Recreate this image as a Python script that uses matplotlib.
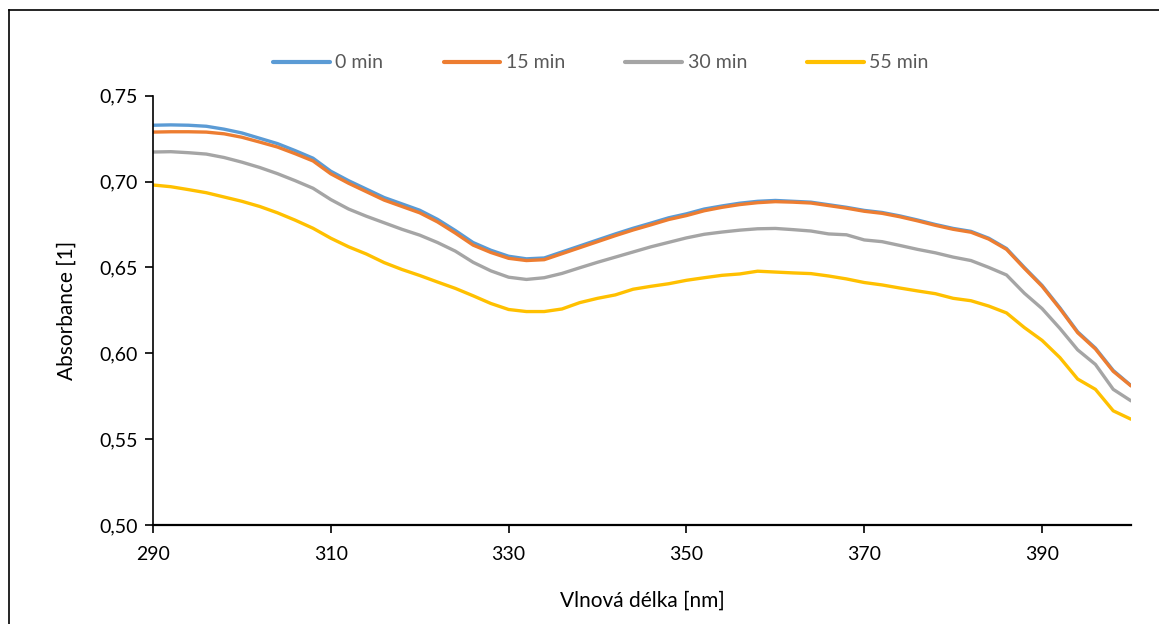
import matplotlib
matplotlib.use("Agg")
import matplotlib.pyplot as plt
from matplotlib.lines import Line2D

plt.rcParams['font.family'] = ['Lato', 'DejaVu Sans']

wavelength = list(range(290, 401, 2))

abs_0min = [0.7328, 0.7330, 0.7328, 0.7322, 0.7305, 0.7283, 0.7252, 0.7221, 0.7180, 0.7136,
            0.7060, 0.7005, 0.6956, 0.6907, 0.6870, 0.6833, 0.6780, 0.6715, 0.6645, 0.6600,
            0.6565, 0.6550, 0.6555, 0.6590, 0.6625, 0.6660, 0.6695, 0.6728, 0.6758, 0.6789,
            0.6812, 0.6840, 0.6858, 0.6874, 0.6885, 0.6890, 0.6885, 0.6880, 0.6865, 0.6850,
            0.6832, 0.6820, 0.6800, 0.6776, 0.6750, 0.6727, 0.6710, 0.6670, 0.6610, 0.6500,
            0.6395, 0.6265, 0.6125, 0.6030, 0.5900, 0.5812]

abs_15min = [0.7288, 0.7290, 0.7290, 0.7288, 0.7278, 0.7258, 0.7230, 0.7201, 0.7162, 0.7120,
             0.7045, 0.6990, 0.6941, 0.6892, 0.6855, 0.6818, 0.6765, 0.6700, 0.6630, 0.6587,
             0.6553, 0.6540, 0.6545, 0.6580, 0.6615, 0.6650, 0.6685, 0.6718, 0.6748, 0.6779,
             0.6802, 0.6830, 0.6850, 0.6866, 0.6877, 0.6883, 0.6880, 0.6875, 0.6860, 0.6845,
             0.6827, 0.6815, 0.6795, 0.6771, 0.6745, 0.6722, 0.6705, 0.6665, 0.6605, 0.6495,
             0.6390, 0.6260, 0.6120, 0.6025, 0.5895, 0.5810]

abs_30min = [0.7172, 0.7174, 0.7168, 0.7160, 0.7140, 0.7113, 0.7082, 0.7046, 0.7005, 0.6961,
             0.6895, 0.6840, 0.6798, 0.6760, 0.6722, 0.6688, 0.6645, 0.6595, 0.6530, 0.6480,
             0.6443, 0.6430, 0.6440, 0.6465, 0.6498, 0.6530, 0.6560, 0.6590, 0.6620, 0.6646,
             0.6672, 0.6693, 0.6706, 0.6717, 0.6725, 0.6727, 0.6720, 0.6712, 0.6695, 0.6690,
             0.6660, 0.6650, 0.6628, 0.6605, 0.6585, 0.6560, 0.6540, 0.6500, 0.6456, 0.6350,
             0.6260, 0.6145, 0.6020, 0.5935, 0.5790, 0.5723]

abs_55min = [0.6980, 0.6970, 0.6953, 0.6935, 0.6910, 0.6885, 0.6855, 0.6818, 0.6775, 0.6728,
             0.6670, 0.6620, 0.6578, 0.6528, 0.6488, 0.6453, 0.6415, 0.6378, 0.6335, 0.6290,
             0.6255, 0.6243, 0.6243, 0.6258, 0.6295, 0.6320, 0.6340, 0.6373, 0.6390, 0.6405,
             0.6425, 0.6440, 0.6454, 0.6462, 0.6478, 0.6473, 0.6468, 0.6464, 0.6450, 0.6433,
             0.6412, 0.6398, 0.6380, 0.6363, 0.6347, 0.6320, 0.6306, 0.6275, 0.6235, 0.6150,
             0.6075, 0.5975, 0.5850, 0.5790, 0.5665, 0.5616]

series_labels = ["0 min", "15 min", "30 min", "55 min"]
series_colors = ["#5B9BD5", "#ED7D31", "#A5A5A5", "#FFC000"]

x_ticks = [290, 310, 330, 350, 370, 390]
x_tick_labels = ["290", "310", "330", "350", "370", "390"]
y_ticks = [0.50, 0.55, 0.60, 0.65, 0.70, 0.75]
y_tick_labels = ["0,50", "0,55", "0,60", "0,65", "0,70", "0,75"]

W, H = 1159, 624
fig = plt.figure(figsize=(W / 100, H / 100), dpi=100)
ax = fig.add_axes([153 / W, 1 - 525 / H, (1131 - 153) / W, (525 - 95.7) / H])

for vals, lab, col in zip([abs_0min, abs_15min, abs_30min, abs_55min], series_labels, series_colors):
    ax.plot(wavelength, vals, color=col, lw=2.4, label=lab, solid_capstyle='round', solid_joinstyle='round')

ax.set_xlim(290, 400)
ax.set_ylim(0.50, 0.75)
ax.set_xticks(x_ticks)
ax.set_xticklabels(x_tick_labels)
ax.set_yticks(y_ticks)
ax.set_yticklabels(y_tick_labels)

for s in ['top', 'right']:
    ax.spines[s].set_visible(False)
ax.spines['left'].set_linewidth(1.2)
ax.spines['bottom'].set_linewidth(1.6)
ax.spines['left'].set_color('black')
ax.spines['bottom'].set_color('black')
ax.tick_params(axis='both', direction='out', length=6, width=1.2, labelsize=14, colors='black', pad=5)
ax.tick_params(axis='x', pad=9)

ax.set_xlabel("Vlnová délka [nm]", fontsize=15, labelpad=20)
ax.set_ylabel("Absorbance [1]", fontsize=15, labelpad=16)

handles = [Line2D([0], [0], color=c, lw=3.0, solid_capstyle='round') for c in series_colors]
leg = fig.legend(handles, series_labels, loc='center', bbox_to_anchor=(601 / W, 1 - 63 / H),
                 ncol=4, frameon=False, fontsize=14, handlelength=2.9, handletextpad=0.3,
                 columnspacing=3.1)
for t in leg.get_texts():
    t.set_color('#595959')

# chart border (left and top edges visible)
fig.add_artist(Line2D([8.5 / W, 8.5 / W], [0, 1 - 10 / H], transform=fig.transFigure, color='black', lw=1.2))
fig.add_artist(Line2D([8.5 / W, 1], [1 - 10 / H, 1 - 10 / H], transform=fig.transFigure, color='black', lw=1.2))

fig.savefig("out.png", dpi=100)
